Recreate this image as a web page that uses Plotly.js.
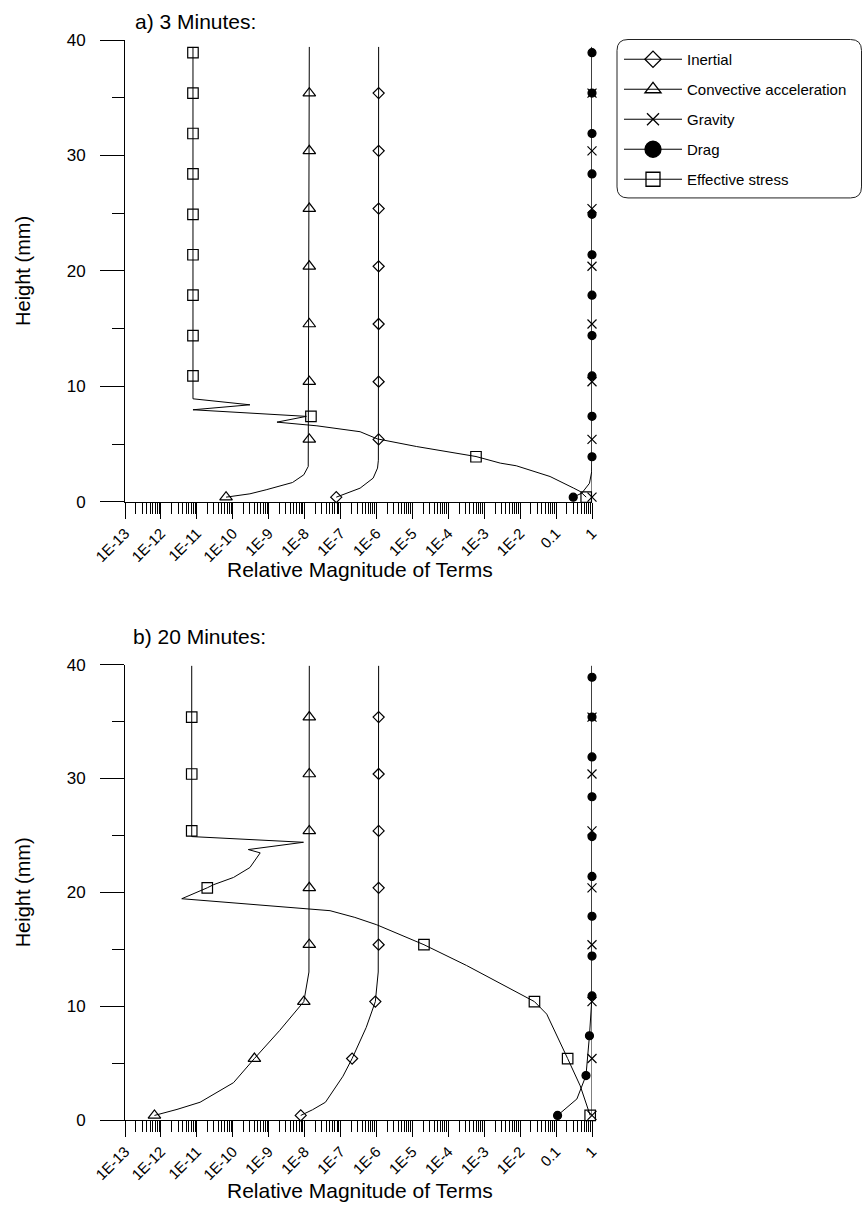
<!DOCTYPE html>
<html>
<head>
<meta charset="utf-8">
<script src="https://cdn.plot.ly/plotly-3.0.1.min.js"></script>
<style>
html,body{margin:0;padding:0;background:#fff;}
#chart{width:863px;height:1205px;}
</style>
</head>
<body>
<div id="chart"></div>
<script>
// ---------- tick labels ----------
const xTickVals = [1e-13,1e-12,1e-11,1e-10,1e-9,1e-8,1e-7,1e-6,1e-5,1e-4,1e-3,1e-2,0.1,1];
const xTickText = ['1E-13','1E-12','1E-11','1E-10','1E-9','1E-8','1E-7','1E-6','1E-5','1E-4','1E-3','1E-2','0.1','1'];
const yTickVals = [0,10,20,30,40];

// marker heights (mm)
const heightsFive = [0.4,5.4,10.4,15.4,20.4,25.4,30.4,35.4];
const heightsStep = [0.4,3.9,7.4,10.9,14.4,17.9,21.4,24.9,28.4,31.9,35.4,38.9];

// ---------- a) 3 minutes ----------
const aInertialLineY = [0.4,0.75,1.18,2.05,2.92,3.6,39.4];
const aInertialLineX = [7.6e-8,1.6e-7,3.5e-7,8.1e-7,1.07e-6,1.13e-6,1.15e-6];
const aInertialMarkX = [7.6e-8,1.15e-6,1.15e-6,1.15e-6,1.15e-6,1.15e-6,1.15e-6,1.15e-6];

const aConvLineY = [0.4,0.69,1.04,1.67,2.34,3.06,39.4];
const aConvLineX = [6.5e-11,3.0e-10,8.5e-10,4.6e-9,9.5e-9,1.26e-8,1.35e-8];
const aConvMarkX = [6.5e-11,1.35e-8,1.35e-8,1.35e-8,1.35e-8,1.35e-8,1.35e-8,1.35e-8];

const aGravLineY = [0.4,39.4];
const aGravLineX = [1,1];
const aGravMarkX = [1,1,1,1,1,1,1,1];

const aDragLineY = [0.4,0.75,1.6,2.6,3.9,39.4];
const aDragLineX = [0.3,0.52,0.85,0.98,1,1];
const aDragMarkX = [0.3,1,1,1,1,1,1,1,1,1,1,1];

const aStressLineY = [39.4,8.92,8.4,7.97,7.4,6.9,6.58,6.38,6.07,5.45,4.79,3.92,3.35,3.12,2.19,1.18,0.89,0.4];
const aStressLineX = [7.8e-12,7.8e-12,3.0e-10,7.8e-12,1.12e-8,1.7e-9,2.2e-8,5.9e-8,3.5e-7,1.05e-6,1.29e-5,5.9e-4,2.8e-3,7.8e-3,0.068,0.31,0.47,0.69];
const aStressMarkX = [0.69,5.9e-4,1.5e-8,7.8e-12,7.8e-12,7.8e-12,7.8e-12,7.8e-12,7.8e-12,7.8e-12,7.8e-12,7.8e-12];

// ---------- b) 20 minutes ----------
const bInertialLineY = [0.4,0.9,1.56,3.85,5.4,8.14,10.4,11.86,13.0,39.9];
const bInertialLineX = [7.8e-9,1.66e-8,3.8e-8,1.17e-7,2.1e-7,5.2e-7,9.3e-7,1.05e-6,1.12e-6,1.15e-6];
const bInertialMarkX = [7.8e-9,2.1e-7,9.3e-7,1.15e-6,1.15e-6,1.15e-6,1.15e-6,1.15e-6];

const bConvLineY = [0.4,0.93,1.56,3.28,5.4,7.85,10.4,11.86,13.0,39.9];
const bConvLineX = [6.6e-13,2.8e-12,1.23e-11,1.05e-10,4.0e-10,2.0e-9,9.5e-9,1.17e-8,1.32e-8,1.35e-8];
const bConvMarkX = [6.6e-13,4.0e-10,9.5e-9,1.35e-8,1.35e-8,1.35e-8,1.35e-8,1.35e-8];

const bGravLineY = [0.4,39.9];
const bGravLineX = [1,1];
const bGravMarkX = [1,1,1,1,1,1,1,1];

const bDragLineY = [0.4,1.85,3.9,7.4,10.9,39.9];
const bDragLineX = [0.11,0.38,0.68,0.85,1,1];
const bDragMarkX = [0.11,0.68,0.85,1,1,1,1,1,1,1,1,1];

const bStressLineY = [39.9,25.4,24.9,24.4,23.76,23.47,22.18,21.31,20.67,20.4,19.44,18.39,17.8,17.15,16.3,15.4,13.58,11.6,10.4,9.3,6.7,5.4,3.0,0.4];
const bStressLineX = [7.2e-12,7.2e-12,7.2e-12,9.3e-9,2.7e-10,5.8e-10,3.0e-10,1.05e-10,2.9e-11,1.95e-11,3.8e-12,5.1e-8,2.5e-7,1.02e-6,4.6e-6,2.1e-5,3.2e-4,5.0e-3,0.025,0.055,0.13,0.21,0.47,0.89];
const bStressMarkX = [0.89,0.21,0.025,2.1e-5,1.95e-11,7.2e-12,7.2e-12,7.2e-12];

const seriesNames = ['Inertial','Convective acceleration','Gravity','Drag','Effective stress'];
const panelTitles = ['a) 3 Minutes:','b) 20 Minutes:'];
const xTitle = 'Relative Magnitude of Terms';
const yTitle = 'Height (mm)';

// ---------- styling ----------
const INK = '#000000';
const ARIAL = '"Liberation Sans", Arial, sans-serif';

const styles = {
  'Inertial':               {symbol:'diamond-open',     size:8.5, legSize:12.5},
  'Convective acceleration':{symbol:'triangle-up-open', size:11,  legSize:14},
  'Gravity':                {symbol:'x-thin-open',      size:9,   legSize:12},
  'Drag':                   {symbol:'circle',           size:8,   legSize:17},
  'Effective stress':       {symbol:'square-open',      size:10.5,legSize:14}
};

const panels = [
  {xa:'x',  ya:'y',  data:{
    'Inertial':[aInertialLineX,aInertialLineY,aInertialMarkX,heightsFive],
    'Convective acceleration':[aConvLineX,aConvLineY,aConvMarkX,heightsFive],
    'Gravity':[aGravLineX,aGravLineY,aGravMarkX,heightsFive],
    'Drag':[aDragLineX,aDragLineY,aDragMarkX,heightsStep],
    'Effective stress':[aStressLineX,aStressLineY,aStressMarkX,heightsStep]}},
  {xa:'x2', ya:'y2', data:{
    'Inertial':[bInertialLineX,bInertialLineY,bInertialMarkX,heightsFive],
    'Convective acceleration':[bConvLineX,bConvLineY,bConvMarkX,heightsFive],
    'Gravity':[bGravLineX,bGravLineY,bGravMarkX,heightsFive],
    'Drag':[bDragLineX,bDragLineY,bDragMarkX,heightsStep],
    'Effective stress':[bStressLineX,bStressLineY,bStressMarkX,heightsFive]}}
];

const traces = [];
panels.forEach(p => {
  seriesNames.forEach(name => {
    const d = p.data[name];
    const st = styles[name];
    traces.push({
      type:'scatter', mode:'lines', x:d[0], y:d[1], xaxis:p.xa, yaxis:p.ya,
      line:{color:INK, width:1}, showlegend:false, legendgroup:name,
      cliponaxis:false, hoverinfo:'skip'
    });
    traces.push({
      type:'scatter', mode:'markers', x:d[2], y:d[3], xaxis:p.xa, yaxis:p.ya,
      marker:{symbol:st.symbol, size:st.size, color:INK, line:{color:INK, width:1.2}},
      showlegend:false, legendgroup:name, cliponaxis:false, name:name
    });
  });
});
// legend entries
seriesNames.forEach(name => {
  const st = styles[name];
  traces.push({
    type:'scatter', mode:'lines+markers', x:[null], y:[null], xaxis:'x', yaxis:'y',
    name:name, legendgroup:name, showlegend:true,
    line:{color:INK, width:1},
    marker:{symbol:st.symbol, size:st.legSize, color:INK, line:{color:INK, width:1.3}}
  });
});

// ---------- geometry helpers (pixel -> paper) ----------
const ML = 125, MR = 271, MT = 40, MB = 84.5, W = 863, H = 1205;
const PW = W - ML - MR, PH = H - MT - MB;
const px = v => (v - ML) / PW;
const py = v => (H - MB - v) / PH;

function roundedBox(l, t, r, b, rad) {
  return 'M' + px(l+rad) + ',' + py(t) +
    ' L' + px(r-rad) + ',' + py(t) +
    ' Q' + px(r) + ',' + py(t) + ' ' + px(r) + ',' + py(t+rad) +
    ' L' + px(r) + ',' + py(b-rad) +
    ' Q' + px(r) + ',' + py(b) + ' ' + px(r-rad) + ',' + py(b) +
    ' L' + px(l+rad) + ',' + py(b) +
    ' Q' + px(l) + ',' + py(b) + ' ' + px(l) + ',' + py(b-rad) +
    ' L' + px(l) + ',' + py(t+rad) +
    ' Q' + px(l) + ',' + py(t) + ' ' + px(l+rad) + ',' + py(t) + ' Z';
}

const xAxisBase = {
  type:'log', range:[-13,0], showgrid:false, zeroline:false,
  showline:true, linecolor:INK, linewidth:1,
  ticks:'outside', ticklen:16, tickcolor:INK, tickwidth:1,
  tickmode:'array', tickvals:xTickVals, ticktext:xTickText, tickangle:-45,
  tickfont:{family:ARIAL, size:15, color:INK},
  minor:{ticks:'outside', ticklen:11, tickcolor:INK, tickwidth:1, dtick:'D1', showgrid:false},
  fixedrange:true
};
const yAxisBase = {
  range:[0,40], showgrid:false, zeroline:false,
  showline:true, linecolor:INK, linewidth:1,
  ticks:'outside', ticklen:24, tickcolor:INK, tickwidth:1,
  tickmode:'array', tickvals:yTickVals,
  tickfont:{family:ARIAL, size:17, color:INK},
  ticklabelstandoff:11,
  minor:{ticks:'outside', ticklen:12, tickcolor:INK, tickwidth:1, dtick:5, tick0:0, showgrid:false},
  title:{text:yTitle, font:{family:ARIAL, size:20, color:INK}, standoff:30},
  fixedrange:true
};

const layout = {
  width:W, height:H,
  margin:{l:ML, r:MR, t:MT, b:MB, autoexpand:false},
  paper_bgcolor:'#ffffff', plot_bgcolor:'#ffffff',
  showlegend:true,
  legend:{
    x:px(619), y:py(43), xanchor:'left', yanchor:'top',
    bgcolor:'rgba(0,0,0,0)', borderwidth:0,
    font:{family:ARIAL, size:15, color:INK},
    traceorder:'grouped', tracegroupgap:7.5, itemwidth:58,
    itemclick:false, itemdoubleclick:false
  },
  xaxis: Object.assign({}, xAxisBase, {anchor:'y', domain:[0,1]}),
  yaxis: Object.assign({}, yAxisBase, {anchor:'x', domain:[py(502), py(40)]}),
  xaxis2: Object.assign({}, xAxisBase, {anchor:'y2', domain:[0,1]}),
  yaxis2: Object.assign({}, yAxisBase, {anchor:'x2', domain:[py(1120.5), py(665)]}),
  shapes:[{
    type:'path', xref:'paper', yref:'paper', layer:'below',
    path: roundedBox(617, 39.5, 861.5, 198, 11),
    line:{color:'#222', width:1}, fillcolor:'rgba(0,0,0,0)'
  }],
  annotations:[
    {text:panelTitles[0], xref:'paper', yref:'paper', x:px(133), y:py(21), xanchor:'left', yanchor:'middle',
     showarrow:false, font:{family:ARIAL, size:21, color:INK}},
    {text:panelTitles[1], xref:'paper', yref:'paper', x:px(131), y:py(637), xanchor:'left', yanchor:'middle',
     showarrow:false, font:{family:ARIAL, size:21, color:INK}},
    {text:xTitle, xref:'paper', yref:'paper', x:px(360), y:py(570), xanchor:'center', yanchor:'middle',
     showarrow:false, font:{family:ARIAL, size:21, color:INK}},
    {text:xTitle, xref:'paper', yref:'paper', x:px(360), y:py(1191), xanchor:'center', yanchor:'middle',
     showarrow:false, font:{family:ARIAL, size:21, color:INK}}
  ]
};

Plotly.newPlot('chart', traces, layout, {displayModeBar:false, responsive:false});
</script>
</body>
</html>
